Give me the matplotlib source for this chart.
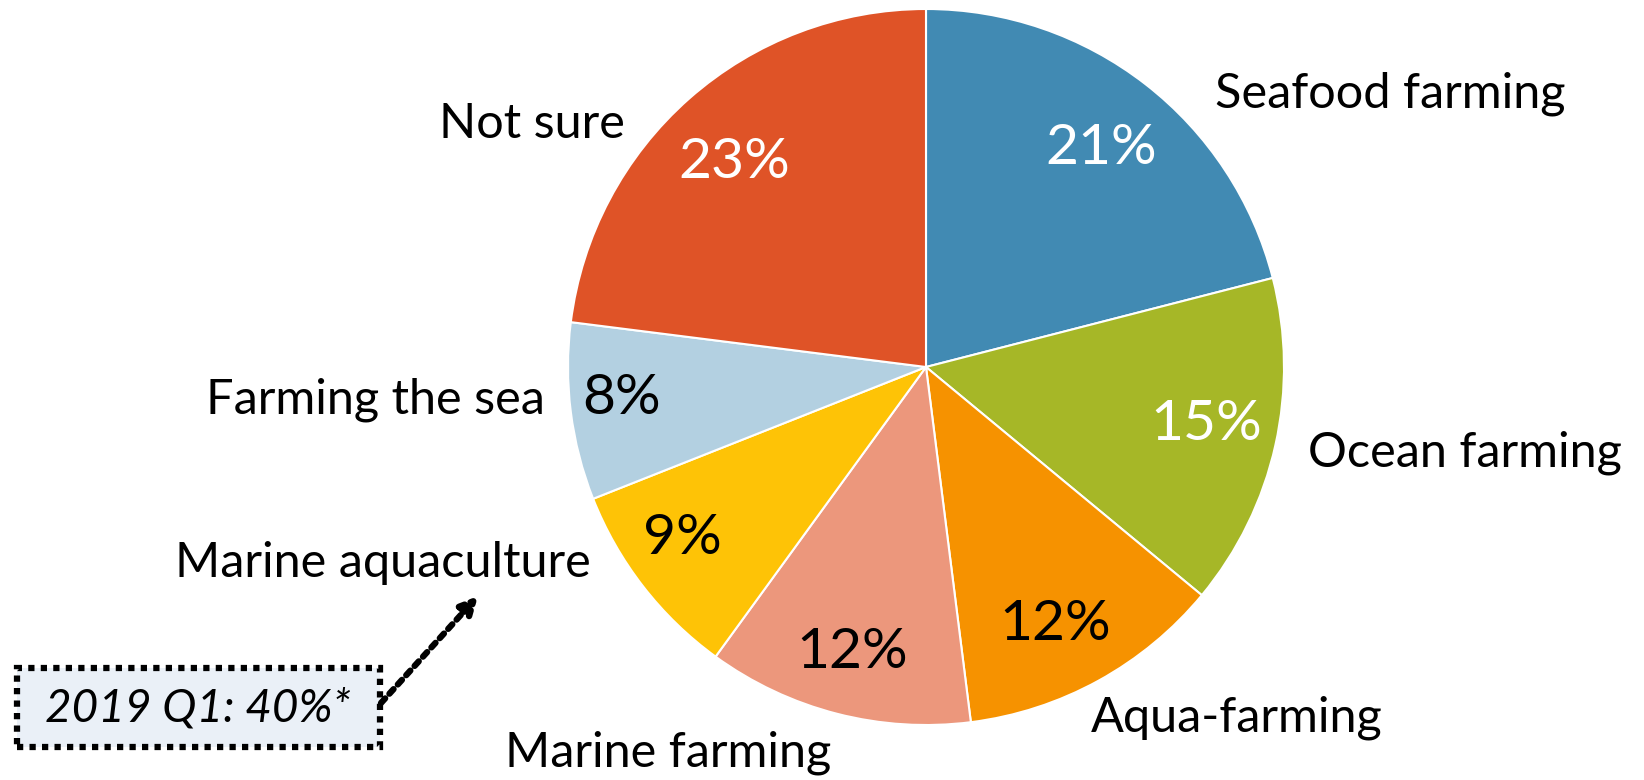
import matplotlib
matplotlib.use("Agg")
from matplotlib import pyplot as plt
from matplotlib.patches import Rectangle

# data
categories = ["Seafood farming", "Ocean farming", "Aqua-farming", "Marine farming",
              "Marine aquaculture", "Farming the sea", "Not sure"]
shares = [21, 15, 12, 12, 9, 8, 23]
colors = ["#418AB3", "#A6B727", "#F69200", "#EC977C", "#FEC306", "#B3D0E1", "#DF5327"]
pct_colors = ["white", "white", "black", "black", "black", "black", "white"]
note_text = "2019 Q1: 40%*"

plt.rcParams['font.family'] = ['Lato', 'DejaVu Sans']

W, H = 1644, 780
cx, cy, R = 926, 367, 358  # pie centre and radius in pixels

fig = plt.figure(figsize=(W / 100, H / 100), dpi=100)
ax = fig.add_axes([0, 0, 1, 1])


def px(x, y):
    # pixel position (from top-left) -> data coords
    return (x - cx) / R, (cy - y) / R


ax.pie(shares, colors=colors, startangle=90, counterclock=False, radius=1,
       wedgeprops=dict(edgecolor="white", linewidth=1.5))
# pie() resets the limits, so set them afterwards
ax.set_xlim(-cx / R, (W - cx) / R)
ax.set_ylim(-(H - cy) / R, cy / R)
ax.set_aspect("auto")
ax.axis("off")

# label positions (pixels)
label_pos = [(1390, 94), (1465, 453), (1237, 718), (668, 753),
             (383, 563), (375, 400), (532, 124)]
pct_pos = [(1101, 149), (1206, 425), (1055, 625), (852, 653),
           (682, 538), (622, 398), (734, 163)]

for name, v, c, lp, pp in zip(categories, shares, pct_colors, label_pos, pct_pos):
    ax.text(*px(*lp), name, fontsize=35, ha="center", va="center", color="black")
    ax.text(*px(*pp), f"{v}%", fontsize=41, ha="center", va="center", color=c)

# note box with dotted arrow
ax.annotate("", xy=px(478, 596), xytext=px(381, 703),
            arrowprops=dict(arrowstyle="-|>,head_length=1.0,head_width=0.5",
                            color="black", lw=4.5, linestyle=(0, (1, 1)),
                            shrinkA=0, shrinkB=0))
x0, y0 = px(17, 747)
x1, y1 = px(380, 668)
ax.add_patch(Rectangle((x0, y0), x1 - x0, y1 - y0, facecolor="#EAF0F7",
                       edgecolor="black", linewidth=4.5, linestyle=(0, (1, 1))))
ax.text(*px(198, 708), note_text, fontsize=33, style="italic", ha="center", va="center")

fig.savefig("out.png", dpi=100)
